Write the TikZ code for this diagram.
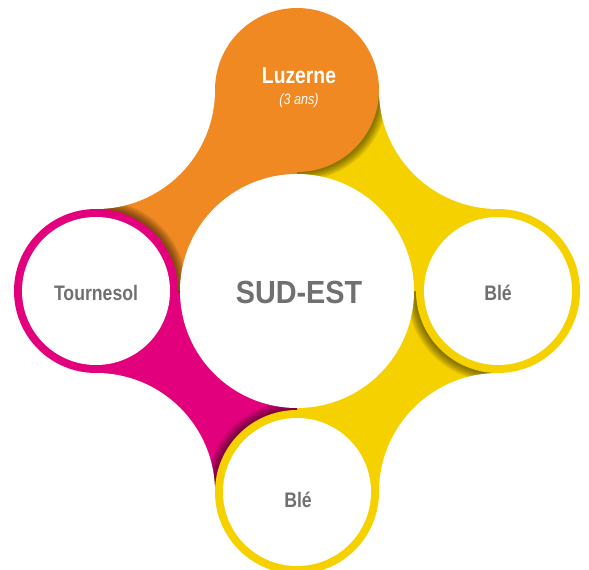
\documentclass[tikz,border=0pt]{standalone}
\usepackage{fontspec}
\newfontfamily\condfont[FakeStretch=0.84]{Liberation Sans}
\newfontfamily\sudfont[FakeStretch=0.9]{Liberation Sans}
\definecolor{cOrange}{RGB}{240,137,34}
\definecolor{cYellow}{RGB}{246,209,0}
\definecolor{cMagenta}{RGB}{227,0,124}
\definecolor{cGrey}{RGB}{112,112,112}
\begin{document}
\begin{tikzpicture}[x=1pt,y=-1pt,
  label/.style={inner sep=0pt, anchor=base, text=cGrey, font=\condfont\bfseries\fontsize{21}{21}\selectfont},
  shadowlayer/.style={fill=black, opacity=0.06}]
\useasboundingbox (0,0) rectangle (589,570);
% quadrant petals
\fill[cOrange] (96,90) rectangle (297,291);
\fill[cYellow] (297,90) rectangle (498,291);
\fill[cYellow] (297,291) rectangle (498,492);
\fill[cMagenta] (96,291) rectangle (297,492);
% shadows cast by each circle onto the neighbouring petal
\begin{scope}
  \clip (297,90) rectangle (498,291);
  \foreach \k in {1,...,9} \fill[shadowlayer] (299,92) circle (80+\k);
\end{scope}
\begin{scope}
  \clip (96,90) rectangle (297,291);
  \foreach \k in {1,...,9} \fill[shadowlayer] (98,289) circle (80+\k);
\end{scope}
\begin{scope}
  \clip (96,291) rectangle (297,492);
  \foreach \k in {1,...,9} \fill[shadowlayer] (295,490) circle (80+\k);
\end{scope}
\begin{scope}
  \clip (297,291) rectangle (498,492);
  \foreach \k in {1,...,9} \fill[shadowlayer] (496,293) circle (80+\k);
\end{scope}
% white corner cut-outs and centre
\fill[white] (96,90) circle (119);
\fill[white] (498,90) circle (119);
\fill[white] (498,492) circle (119);
\fill[white] (96,492) circle (119);
\fill[white] (297,291) circle (117);
% satellite circles
\fill[cOrange] (297,90) circle (82);
\fill[cMagenta] (96,291) circle (82);
\fill[white] (96,291) circle (74);
\fill[cYellow] (498,291) circle (82);
\fill[white] (498,291) circle (74);
\fill[cYellow] (297,492) circle (82);
\fill[white] (297,492) circle (74);
% texts
\node[label, text=white, font=\condfont\bfseries\fontsize{23}{23}\selectfont] (luz) at (299,83) {Luzerne};
\node[label, text=white, font=\condfont\itshape\fontsize{15}{15}\selectfont] (ans) at (299,104) {(3 ans)};
\node[label, font=\sudfont\bfseries\fontsize{32}{32}\selectfont] (sud) at (299,303) {SUD-EST};
\node[label] (tour) at (96,300) {Tournesol};
\node[label] (ble1) at (498,300) {Blé};
\node[label] (ble2) at (298,507) {Blé};
\end{tikzpicture}
\end{document}
